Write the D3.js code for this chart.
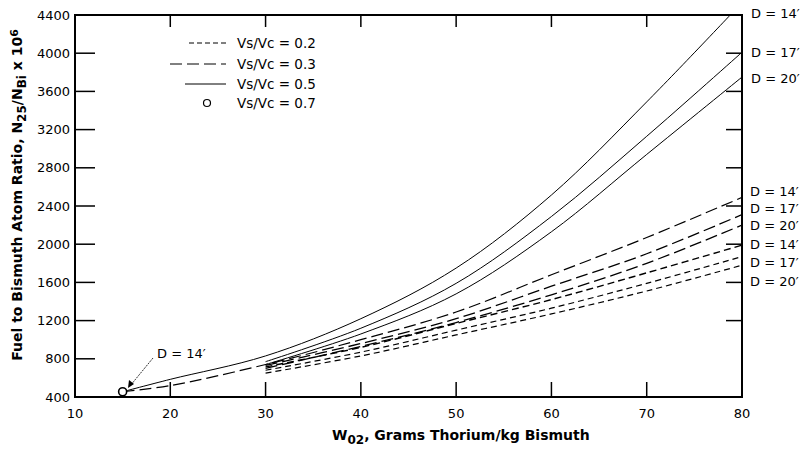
<!DOCTYPE html>
<html>
<head>
<meta charset="utf-8">
<script src="https://cdn.jsdelivr.net/npm/d3@7"></script>
<style>
  body { margin: 0; background: #fff; }
  text { font-family: "DejaVu Sans", "Liberation Sans", sans-serif; fill: #000; }
</style>
</head>
<body>
<div id="chart-area"></div>
<script>
// chart size
const W = 809, H = 453

// x values
const xStart15 = [15, 20, 30, 40, 50, 60, 70, 80]
const xStart30 = [30, 40, 50, 60, 70, 80]

// Vs/Vc = 0.5 (solid)
const solidD14 = [455, 585, 830, 1220, 1750, 2515, 3490, 4530]
const solidD17 = [770, 1120, 1590, 2290, 3130, 4010]
const solidD20 = [740, 1060, 1480, 2130, 2940, 3750]

// Vs/Vc = 0.3 (long dash)
const dash3D14 = [455, 520, 740, 1000, 1290, 1680, 2070, 2490]
const dash3D17 = [730, 960, 1220, 1560, 1900, 2310]
const dash3D20 = [700, 930, 1180, 1470, 1800, 2200]

// Vs/Vc = 0.2 (short dash)
const dash2D14 = [715, 920, 1170, 1420, 1700, 1990]
const dash2D17 = [680, 870, 1100, 1330, 1590, 1870]
const dash2D20 = [650, 830, 1050, 1270, 1510, 1780]

// Vs/Vc = 0.7 point
const circleX = [15]
const circleY = [455]

// ticks
const xTicks = [10, 20, 30, 40, 50, 60, 70, 80]
const yTicks = [400, 800, 1200, 1600, 2000, 2400, 2800, 3200, 3600, 4000, 4400]

// legend
const legendLabels = ["Vs/Vc = 0.2", "Vs/Vc = 0.3", "Vs/Vc = 0.5", "Vs/Vc = 0.7"]

// right side labels
const topLabels = ["D = 14′", "D = 17′", "D = 20′"]
const lowLabels = ["D = 14′", "D = 17′", "D = 20′", "D = 14′", "D = 17′", "D = 20′"]

const svg = d3.select("#chart-area").append("svg")
  .attr("width", W)
  .attr("height", H)

// scales
const x = d3.scaleLinear().domain([10, 80]).range([75, 742])
const y = d3.scaleLinear().domain([400, 4400]).range([397, 15])

// clip
svg.append("clipPath").attr("id", "clip")
  .append("rect")
  .attr("x", x(10)).attr("y", y(4400))
  .attr("width", x(80) - x(10)).attr("height", y(400) - y(4400))

const series = [
  { xs: xStart15, ys: solidD14, dash: null, w: 1 },
  { xs: xStart30, ys: solidD17, dash: null, w: 1 },
  { xs: xStart30, ys: solidD20, dash: null, w: 1 },
  { xs: xStart15, ys: dash3D14, dash: "12,5", w: 1.2 },
  { xs: xStart30, ys: dash3D17, dash: "12,5", w: 1.3 },
  { xs: xStart30, ys: dash3D20, dash: "12,5", w: 1.3 },
  { xs: xStart30, ys: dash2D14, dash: "7,4", w: 1.4 },
  { xs: xStart30, ys: dash2D17, dash: "6,4", w: 1.2 },
  { xs: xStart30, ys: dash2D20, dash: "6,4", w: 1.2 }
]

const line = d3.line()
  .x(d => x(d[0]))
  .y(d => y(d[1]))
  .curve(d3.curveCatmullRom.alpha(0.5))

const lines = svg.append("g").attr("clip-path", "url(#clip)")
series.forEach(s => {
  lines.append("path")
    .attr("d", line(s.xs.map((v, i) => [v, s.ys[i]])))
    .attr("fill", "none")
    .attr("stroke", "#000")
    .attr("stroke-width", s.w)
    .attr("stroke-dasharray", s.dash)
})

// circle point
svg.selectAll(".pt").data(circleX).enter().append("circle")
  .attr("cx", d => x(d))
  .attr("cy", (d, i) => y(circleY[i]))
  .attr("r", 4)
  .attr("fill", "#fff")
  .attr("stroke", "#000")
  .attr("stroke-width", 1.6)

// frame
svg.append("rect")
  .attr("x", x(10)).attr("y", y(4400))
  .attr("width", x(80) - x(10)).attr("height", y(400) - y(4400))
  .attr("fill", "none")
  .attr("stroke", "#000")
  .attr("stroke-width", 2)

// inward ticks
const tg = svg.append("g").attr("stroke", "#000").attr("stroke-width", 1.5)
yTicks.slice(1, -1).forEach(v => {
  tg.append("line").attr("x1", x(10)).attr("x2", x(10) + 20).attr("y1", y(v)).attr("y2", y(v))
  if (v >= 1200) tg.append("line").attr("x1", x(80)).attr("x2", x(80) - 16).attr("y1", y(v)).attr("y2", y(v))
})
xTicks.slice(1, -1).forEach(v => {
  tg.append("line").attr("x1", x(v)).attr("x2", x(v)).attr("y1", y(400)).attr("y2", y(400) - 15)
  tg.append("line").attr("x1", x(v)).attr("x2", x(v)).attr("y1", y(4400)).attr("y2", y(4400) + 12)
})

// tick labels
svg.selectAll(".yl").data(yTicks).enter().append("text")
  .attr("x", 70)
  .attr("y", d => y(d))
  .attr("dy", "0.35em")
  .attr("text-anchor", "end")
  .style("font-size", "13px")
  .text(d => d)

svg.selectAll(".xl").data(xTicks).enter().append("text")
  .attr("x", d => x(d))
  .attr("y", 418)
  .attr("text-anchor", "middle")
  .style("font-size", "13px")
  .text(d => d)

// x label
const xl = svg.append("text")
  .attr("x", 332).attr("y", 440)
  .style("font-size", "14px").style("font-weight", "bold")
xl.append("tspan").text("W")
xl.append("tspan").attr("baseline-shift", "-30%").style("font-size", "12px").text("02")
xl.append("tspan").text(", Grams Thorium/kg Bismuth")

// y label
const yl = svg.append("text")
  .attr("transform", "translate(22, 195) rotate(-90)")
  .attr("text-anchor", "middle")
  .style("font-size", "14px").style("font-weight", "bold")
yl.append("tspan").text("Fuel to Bismuth Atom Ratio, N")
yl.append("tspan").attr("baseline-shift", "-30%").style("font-size", "12px").text("25")
yl.append("tspan").text("/N")
yl.append("tspan").attr("baseline-shift", "-30%").style("font-size", "12px").text("Bi")
yl.append("tspan").text(" x 10")
yl.append("tspan").attr("baseline-shift", "40%").style("font-size", "11px").text("6")

// legend
const legRows = [43, 64, 84, 103]
const legDash = ["5,3", "12,5", null]
const legStart = [189, 170, 185]
const leg = svg.append("g")
legendLabels.forEach((t, i) => {
  if (i < 3) {
    leg.append("line")
      .attr("x1", legStart[i]).attr("x2", 226)
      .attr("y1", legRows[i]).attr("y2", legRows[i])
      .attr("stroke", "#000").attr("stroke-width", 1)
      .attr("stroke-dasharray", legDash[i])
  } else {
    leg.append("circle").attr("cx", 207).attr("cy", legRows[i]).attr("r", 3.5)
      .attr("fill", "#fff").attr("stroke", "#000").attr("stroke-width", 1.2)
  }
  leg.append("text")
    .attr("x", 237).attr("y", legRows[i]).attr("dy", "0.35em")
    .style("font-size", "13.5px")
    .text(t)
})

// right labels
const topY = [13, 52, 78]
topLabels.forEach((t, i) => {
  svg.append("text").attr("x", 751).attr("y", topY[i]).attr("dy", "0.35em")
    .style("font-size", "13px").text(t)
})
const lowY = [191, 208, 225, 244, 262, 281]
lowLabels.forEach((t, i) => {
  svg.append("text").attr("x", 750).attr("y", lowY[i]).attr("dy", "0.35em")
    .style("font-size", "13px").text(t)
})

// annotation for the circle
svg.append("text").attr("x", 157).attr("y", 358)
  .style("font-size", "13px").text("D = 14′")
svg.append("line")
  .attr("x1", 153).attr("y1", 358).attr("x2", 130).attr("y2", 386)
  .attr("stroke", "#000").attr("stroke-width", 0.8).attr("stroke-dasharray", "2,1")
svg.append("path")
  .attr("d", "M128,388 L129,380 L134,384 Z")
  .attr("fill", "#000")
</script>
</body>
</html>
